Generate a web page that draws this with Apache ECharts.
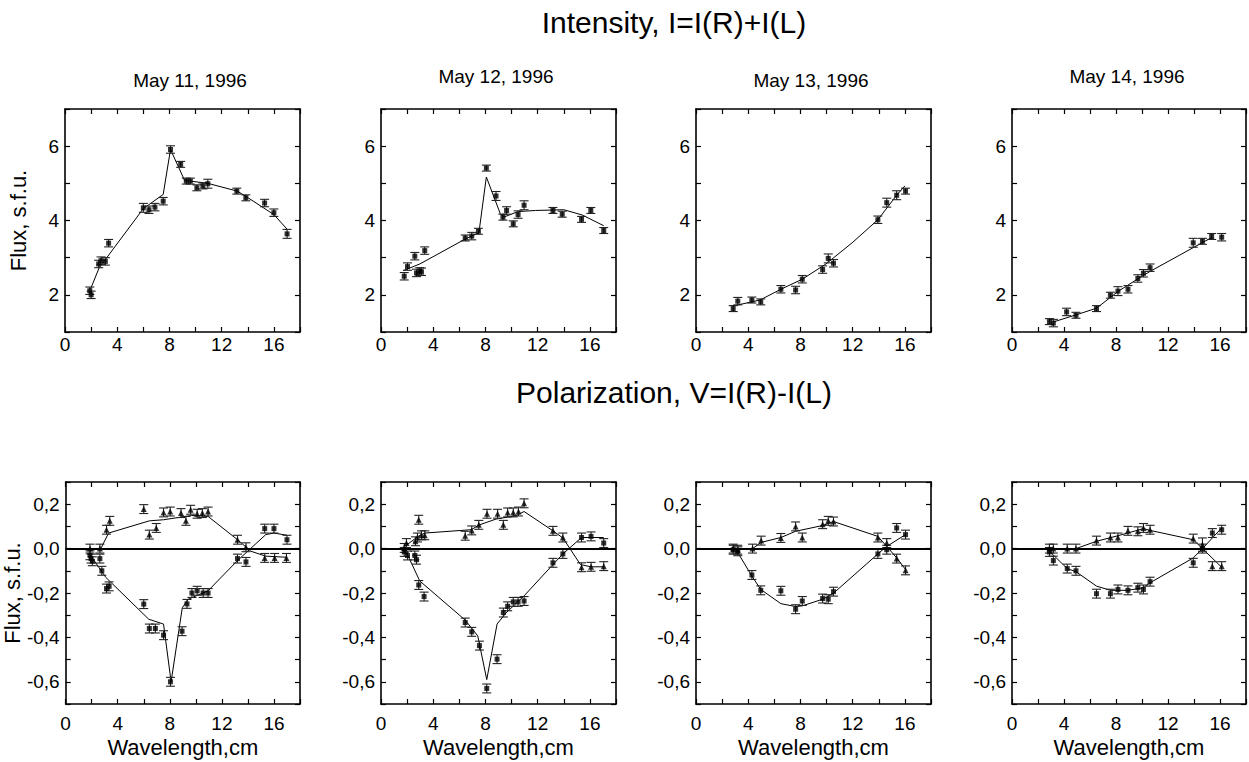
<!DOCTYPE html>
<html>
<head>
<meta charset="utf-8">
<script src="https://cdn.jsdelivr.net/npm/echarts@6/dist/echarts.min.js"></script>
<style>html,body{margin:0;padding:0;background:#fff}#c{width:1249px;height:762px}</style>
</head>
<body>
<div id="c"></div>
<script>
// ---------- DATA ----------
const mainTitles = ['Intensity, I=I(R)+I(L)', 'Polarization, V=I(R)-I(L)'];
const dateTitles = ['May 11, 1996', 'May 12, 1996', 'May 13, 1996', 'May 14, 1996'];
const yAxisName = 'Flux, s.f.u.';
const xAxisName = 'Wavelength,cm';

// Intensity observations [wavelength, flux, error]
const intMay11 = [[1.9,2.11,0.1],[2.0,2.0,0.1],[2.58,2.83,0.1],[2.76,2.92,0.1],[3.09,2.9,0.1],[3.34,3.39,0.1],[6.0,4.34,0.12],[6.43,4.29,0.1],[6.89,4.36,0.1],[7.52,4.52,0.1],[8.08,5.91,0.1],[8.86,5.51,0.08],[9.29,5.06,0.08],[9.6,5.06,0.08],[10.1,4.88,0.08],[10.56,4.93,0.08],[10.94,4.99,0.12],[13.16,4.79,0.08],[13.85,4.61,0.08],[15.29,4.47,0.1],[16.0,4.21,0.1],[17.01,3.64,0.12]];
const intMay12 = [[1.78,2.5,0.1],[2.03,2.76,0.1],[2.59,3.04,0.1],[2.72,2.59,0.1],[2.97,2.63,0.1],[3.1,2.62,0.1],[3.35,3.19,0.1],[6.45,3.53,0.08],[6.95,3.58,0.1],[7.46,3.71,0.08],[8.07,5.41,0.08],[8.81,4.66,0.12],[9.34,4.09,0.08],[9.62,4.27,0.1],[10.13,3.91,0.08],[10.5,4.16,0.1],[10.96,4.41,0.12],[13.17,4.27,0.08],[13.88,4.17,0.08],[15.36,4.03,0.08],[16.07,4.27,0.08],[17.06,3.73,0.08]];
const intMay13 = [[2.85,1.63,0.08],[3.2,1.83,0.1],[4.28,1.86,0.08],[4.96,1.81,0.08],[6.5,2.15,0.1],[7.63,2.13,0.1],[8.14,2.42,0.1],[9.7,2.68,0.1],[10.13,2.98,0.12],[10.53,2.85,0.1],[13.93,4.02,0.1],[14.61,4.48,0.12],[15.37,4.68,0.12],[16.05,4.79,0.08]];
const intMay14 = [[2.88,1.28,0.08],[3.18,1.24,0.1],[4.2,1.54,0.1],[4.92,1.45,0.08],[6.5,1.63,0.08],[7.57,1.99,0.08],[8.15,2.1,0.12],[8.92,2.15,0.1],[9.68,2.44,0.1],[10.11,2.58,0.1],[10.62,2.73,0.1],[13.94,3.4,0.12],[14.65,3.44,0.08],[15.36,3.57,0.08],[16.13,3.55,0.1]];

// Intensity model curves [wavelength, flux]
const intFitMay11 = [[1.95,2.15],[2.63,2.74],[3.2,3.0],[6.0,4.32],[7.52,4.70],[8.08,5.91],[9.16,5.08],[10.94,5.0],[13.2,4.79],[13.85,4.65],[16.0,4.16],[17.0,3.77]];
const intFitMay12 = [[1.7,2.65],[2.97,2.83],[6.45,3.5],[7.5,3.67],[8.07,5.17],[9.14,4.18],[9.39,4.09],[10.5,4.24],[11.85,4.27],[14.0,4.29],[15.4,4.15],[17.06,3.86]];
const intFitMay13 = [[2.85,1.70],[4.9,1.86],[6.5,2.15],[8.14,2.42],[9.95,2.83],[11.96,3.40],[13.93,4.02],[15.37,4.68],[16.0,4.93]];
const intFitMay14 = [[3.18,1.27],[4.92,1.46],[6.5,1.64],[8.15,2.09],[9.68,2.43],[10.62,2.63],[13.94,3.27],[15.36,3.54]];

// Polarization observations: branch A (triangles) and branch B (squares) [wavelength, V, error]
const polAMay11 = [[1.87,0.0,0.02],[2.63,0.0,0.02],[3.14,0.085,0.02],[3.39,0.125,0.02],[6.0,0.178,0.02],[6.43,0.063,0.02],[6.96,0.093,0.02],[7.52,0.163,0.02],[8.03,0.167,0.02],[8.86,0.16,0.02],[9.24,0.125,0.02],[9.6,0.175,0.02],[10.1,0.157,0.02],[10.5,0.16,0.02],[10.94,0.167,0.02],[13.2,0.04,0.02],[13.85,0.006,0.02],[15.29,-0.042,0.02],[16.05,-0.042,0.02],[16.96,-0.042,0.02]];
const polBMay11 = [[1.87,-0.03,0.02],[1.95,-0.045,0.02],[2.05,-0.057,0.02],[2.63,-0.045,0.02],[2.78,-0.1,0.02],[3.14,-0.18,0.02],[3.34,-0.17,0.02],[6.0,-0.25,0.02],[6.43,-0.36,0.02],[6.89,-0.36,0.02],[7.52,-0.39,0.02],[8.05,-0.6,0.02],[8.94,-0.372,0.02],[9.32,-0.249,0.02],[9.7,-0.2,0.02],[10.1,-0.19,0.02],[10.56,-0.2,0.02],[10.94,-0.2,0.02],[13.2,-0.045,0.02],[13.85,-0.06,0.02],[15.29,0.09,0.02],[16.0,0.09,0.02],[17.0,0.04,0.02]];
const polAMay12 = [[1.78,0.003,0.02],[1.95,0.025,0.02],[2.64,0.033,0.02],[2.79,0.05,0.02],[2.89,0.13,0.02],[3.1,0.06,0.02],[3.35,0.06,0.02],[6.45,0.058,0.02],[6.95,0.082,0.02],[7.49,0.107,0.02],[8.12,0.157,0.02],[8.93,0.157,0.02],[9.37,0.107,0.02],[9.7,0.163,0.02],[10.13,0.163,0.02],[10.53,0.167,0.02],[10.96,0.204,0.02],[13.17,0.08,0.02],[13.93,0.05,0.02],[15.36,-0.084,0.02],[16.09,-0.082,0.02],[17.06,-0.079,0.02]];
const polBMay12 = [[1.78,-0.015,0.02],[2.03,-0.031,0.02],[2.59,-0.031,0.02],[2.72,-0.05,0.02],[2.89,-0.164,0.02],[3.3,-0.216,0.02],[6.45,-0.333,0.02],[6.95,-0.375,0.02],[7.54,-0.437,0.02],[8.1,-0.63,0.02],[8.89,-0.498,0.02],[9.37,-0.288,0.02],[9.7,-0.26,0.02],[10.13,-0.24,0.02],[10.5,-0.24,0.02],[10.96,-0.236,0.02],[13.17,-0.064,0.02],[13.93,-0.024,0.02],[15.36,0.05,0.02],[16.09,0.055,0.02],[17.06,0.025,0.02]];
const polAMay13 = [[2.85,0.0,0.02],[3.2,-0.005,0.02],[4.33,0.0,0.02],[4.99,0.036,0.02],[6.5,0.048,0.02],[7.63,0.1,0.02],[8.14,0.05,0.02],[9.7,0.11,0.02],[10.13,0.125,0.02],[10.53,0.122,0.02],[13.93,0.05,0.02],[14.61,0.025,0.02],[15.37,-0.045,0.02],[16.05,-0.098,0.02]];
const polBMay13 = [[2.85,-0.005,0.02],[3.2,-0.012,0.02],[4.28,-0.119,0.02],[4.96,-0.188,0.02],[6.5,-0.19,0.02],[7.63,-0.273,0.02],[8.14,-0.236,0.02],[9.7,-0.225,0.02],[10.13,-0.228,0.02],[10.53,-0.194,0.02],[13.93,-0.024,0.02],[14.61,-0.005,0.02],[15.37,0.093,0.02],[16.05,0.063,0.02]];
const polAMay14 = [[2.88,0.0,0.02],[3.18,0.0,0.02],[4.25,0.0,0.02],[4.92,0.0,0.02],[6.5,0.036,0.02],[7.57,0.05,0.02],[8.15,0.05,0.02],[8.92,0.08,0.02],[9.68,0.078,0.02],[10.11,0.093,0.02],[10.62,0.085,0.02],[13.94,0.045,0.02],[14.65,0.018,0.03],[15.41,-0.079,0.02],[16.13,-0.079,0.02]];
const polBMay14 = [[2.88,-0.015,0.02],[3.18,-0.054,0.02],[4.25,-0.09,0.02],[4.92,-0.1,0.02],[6.5,-0.203,0.02],[7.57,-0.203,0.02],[8.15,-0.184,0.02],[8.92,-0.188,0.02],[9.68,-0.176,0.02],[10.11,-0.184,0.02],[10.62,-0.149,0.02],[13.94,-0.064,0.02],[14.65,0.0,0.02],[15.41,0.07,0.02],[16.13,0.085,0.02]];

// Polarization model curves
const polFitAMay11 = [[2.7,0.0],[3.3,0.07],[6.43,0.125],[7.52,0.13],[9.67,0.149],[10.94,0.145],[13.2,0.04],[14.23,-0.012],[15.37,-0.034],[17.0,-0.039]];
const polFitBMay11 = [[1.87,-0.027],[3.09,-0.13],[6.38,-0.318],[7.52,-0.34],[8.1,-0.6],[8.96,-0.266],[9.42,-0.228],[10.94,-0.19],[13.2,-0.054],[15.37,0.063],[16.0,0.07],[17.0,0.06]];
const polFitAMay12 = [[1.83,0.01],[2.84,0.055],[3.35,0.07],[6.9,0.085],[7.54,0.107],[8.81,0.133],[10.33,0.148],[10.96,0.167],[13.17,0.08],[13.93,0.048],[15.28,-0.072],[16.09,-0.082],[17.06,-0.082]];
const polFitBMay12 = [[1.78,-0.005],[2.08,-0.034],[2.97,-0.146],[6.45,-0.322],[7.41,-0.393],[8.1,-0.59],[8.89,-0.34],[9.57,-0.29],[10.96,-0.213],[13.17,-0.072],[13.93,-0.024],[15.36,0.05],[17.06,0.05]];
const polFitAMay13 = [[2.9,0.0],[4.33,0.0],[4.99,0.028],[6.5,0.05],[7.63,0.078],[9.7,0.104],[10.53,0.122],[13.93,0.055],[14.61,0.01],[15.37,-0.042],[16.05,-0.094]];
const polFitBMay13 = [[3.02,0.0],[4.28,-0.124],[4.96,-0.184],[6.5,-0.248],[7.63,-0.261],[8.14,-0.258],[9.7,-0.228],[10.53,-0.201],[13.93,-0.024],[14.61,0.01],[16.05,0.063]];
const polFitAMay14 = [[2.88,0.0],[4.92,0.0],[6.5,0.033],[8.15,0.058],[10.11,0.09],[10.62,0.082],[13.94,0.04],[14.65,0.0],[16.13,-0.084]];
const polFitBMay14 = [[2.88,-0.012],[4.25,-0.09],[4.92,-0.104],[6.5,-0.169],[7.57,-0.188],[8.92,-0.188],[10.11,-0.176],[10.62,-0.154],[13.94,-0.042],[14.65,0.0],[16.13,0.093]];

// ---------- LAYOUT ----------
const FONT = '"Liberation Sans", Arial, Helvetica, sans-serif';
const colLeft = [65, 381, 696, 1012];
const colWidth = 235;
const rowTop = [109, 482];
const rowHeight = [223, 222];

const intensitySets = [
  {pts: [intMay11], fits: [intFitMay11]},
  {pts: [intMay12], fits: [intFitMay12]},
  {pts: [intMay13], fits: [intFitMay13]},
  {pts: [intMay14], fits: [intFitMay14]}
];
const polarizationSets = [
  {pts: [polAMay11, polBMay11], fits: [polFitAMay11, polFitBMay11]},
  {pts: [polAMay12, polBMay12], fits: [polFitAMay12, polFitBMay12]},
  {pts: [polAMay13, polBMay13], fits: [polFitAMay13, polFitBMay13]},
  {pts: [polAMay14, polBMay14], fits: [polFitAMay14, polFitBMay14]}
];

function errorBars(params, api) {
  const x = api.value(0), y = api.value(1), e = api.value(2);
  const hi = api.coord([x, y + e]), lo = api.coord([x, y - e]);
  const w = 4.5;
  const style = {stroke: '#222', lineWidth: 1.1, fill: null};
  return {type: 'group', children: [
    {type: 'line', shape: {x1: hi[0], y1: hi[1], x2: lo[0], y2: lo[1]}, style: style},
    {type: 'line', shape: {x1: hi[0] - w, y1: hi[1], x2: hi[0] + w, y2: hi[1]}, style: style},
    {type: 'line', shape: {x1: lo[0] - w, y1: lo[1], x2: lo[0] + w, y2: lo[1]}, style: style}
  ]};
}

const grids = [], xAxes = [], yAxes = [], series = [];
const axisLineStyle = {show: true, onZero: false, lineStyle: {color: '#000', width: 1.6}};
const tickStyle = {show: true, inside: true, length: 5, lineStyle: {color: '#000', width: 1.2}};
const labelFont = {color: '#000', fontFamily: FONT, fontSize: 19};

function fmtInt(v) { return (Math.round(v) % 2 === 0) ? String(Math.round(v)) : ''; }
function fmtPol(v) { const k = Math.round(v * 10); return (k % 2 === 0) ? (k / 10).toFixed(1).replace('.', ',') : ''; }
function fmtX(v) { const r = Math.round(v); return (r % 4 === 0) ? String(r) : ''; }

for (let row = 0; row < 2; row++) {
  for (let col = 0; col < 4; col++) {
    const gi = row * 4 + col;
    grids.push({left: colLeft[col], top: rowTop[row], width: colWidth, height: rowHeight[row], show: false});
    const isPol = row === 1;
    xAxes.push({
      type: 'value', gridIndex: gi, position: 'bottom', min: 0, max: 18, interval: 2,
      axisLine: axisLineStyle, axisTick: tickStyle, splitLine: {show: false},
      axisLabel: Object.assign({formatter: fmtX, margin: isPol ? 10 : 3}, labelFont),
      name: isPol ? xAxisName : '', nameLocation: 'middle', nameGap: 32,
      nameTextStyle: {color: '#000', fontFamily: FONT, fontSize: 22}
    });
    xAxes.push({
      type: 'value', gridIndex: gi, position: 'top', min: 0, max: 18, interval: 2,
      axisLine: axisLineStyle, axisTick: tickStyle, splitLine: {show: false}, axisLabel: {show: false}
    });
    yAxes.push({
      type: 'value', gridIndex: gi, position: 'left',
      min: isPol ? -0.7 : 1, max: isPol ? 0.3 : 7, interval: isPol ? 0.1 : 1,
      axisLine: axisLineStyle, axisTick: tickStyle, splitLine: {show: false},
      axisLabel: Object.assign({formatter: isPol ? fmtPol : fmtInt, margin: 6}, labelFont),
      name: col === 0 ? yAxisName : '', nameLocation: 'middle', nameGap: 36,
      nameTextStyle: {color: '#000', fontFamily: FONT, fontSize: 22}
    });
    yAxes.push({
      type: 'value', gridIndex: gi, position: 'right',
      min: isPol ? -0.7 : 1, max: isPol ? 0.3 : 7, interval: isPol ? 0.1 : 1,
      axisLine: axisLineStyle, axisTick: tickStyle, splitLine: {show: false}, axisLabel: {show: false}
    });
    const set = isPol ? polarizationSets[col] : intensitySets[col];
    const xi = gi * 2, yi = gi * 2;
    if (isPol) {
      series.push({
        type: 'line', xAxisIndex: xi, yAxisIndex: yi, data: [], silent: true,
        markLine: {silent: true, symbol: 'none', label: {show: false},
          lineStyle: {color: '#000', width: 2.2, type: 'solid'}, data: [{yAxis: 0}]}
      });
    }
    set.fits.forEach(function (fit) {
      series.push({type: 'line', xAxisIndex: xi, yAxisIndex: yi, data: fit, symbol: 'none',
        lineStyle: {color: '#000', width: 1}, silent: true, z: 3});
    });
    set.pts.forEach(function (pts, k) {
      series.push({type: 'custom', xAxisIndex: xi, yAxisIndex: yi, data: pts,
        dimensions: ['x', 'y', 'err'], encode: {x: 0, y: 1}, renderItem: errorBars, silent: true, z: 4});
      series.push({type: 'scatter', xAxisIndex: xi, yAxisIndex: yi, data: pts.map(function (p) { return [p[0], p[1]]; }),
        symbol: (isPol && k === 0) ? 'triangle' : 'rect', symbolSize: (isPol && k === 0) ? 6 : 5,
        itemStyle: {color: '#000'}, silent: true, z: 5});
    });
  }
}

const graphics = [
  {type: 'text', x: 674, y: 22, style: {text: mainTitles[0], font: '30px ' + FONT, fill: '#000', textAlign: 'center', textVerticalAlign: 'middle'}},
  {type: 'text', x: 674, y: 392, style: {text: mainTitles[1], font: '30px ' + FONT, fill: '#000', textAlign: 'center', textVerticalAlign: 'middle'}}
];
const dateX = [190, 496, 811, 1127];
const dateY = [80, 76, 80, 76];
dateTitles.forEach(function (t, i) {
  graphics.push({type: 'text', x: dateX[i], y: dateY[i], style: {text: t, font: '19px ' + FONT, fill: '#000', textAlign: 'center', textVerticalAlign: 'middle'}});
});

const chart = echarts.init(document.getElementById('c'), null, {renderer: 'svg'});
chart.setOption({
  animation: false,
  backgroundColor: '#fff',
  grid: grids, xAxis: xAxes, yAxis: yAxes, series: series,
  graphic: graphics
});
</script>
</body>
</html>
